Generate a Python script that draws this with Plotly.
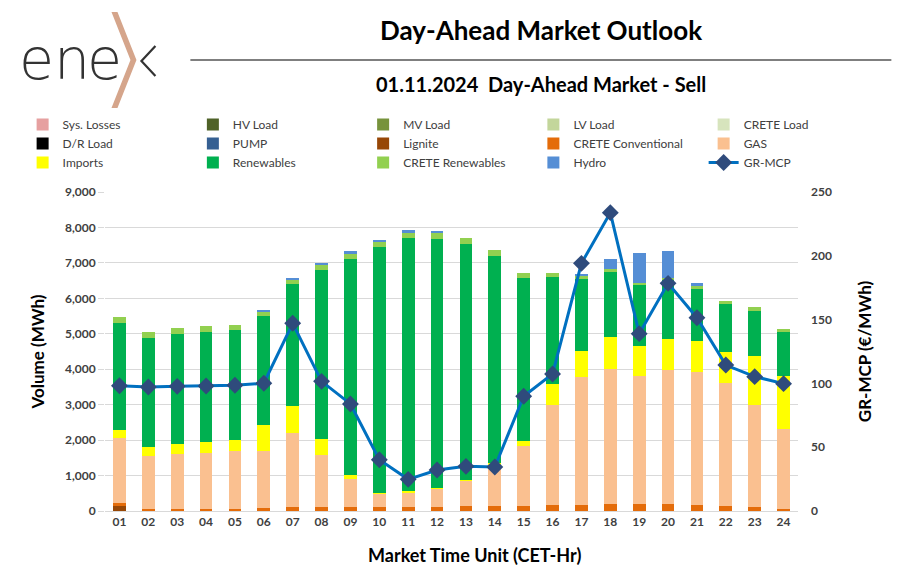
import plotly.graph_objects as go

# page body has an 8px margin: figure drawn at (8, 8)
OFF = 8
W, H = 902 - OFF, 577 - OFF
PL, PR, PT, PB = 104.5, 798.5, 192, 511   # plot area in page pixels
ML, MT = PL - OFF, PT - OFF
PW, PH = PR - PL, PB - PT
MR = W - ML - PW
MB = H - MT - PH

def px(x):
    return (x - PL) / PW

def py(y):
    return (PB - y) / PH

hours = [f"{i:02d}" for i in range(1, 25)]

sys_losses = [0] * 24
hv_load = [0] * 24
mv_load = [0] * 24
lv_load = [0] * 24
crete_load = [0] * 24
dr_load = [0] * 24
pump = [0] * 24
lignite = [140] + [0] * 23
crete_conv = [95, 65, 65, 65, 65, 75, 100, 110, 100, 100, 100, 120,
              130, 130, 130, 160, 180, 210, 210, 205, 180, 135, 105, 65]
gas = [1816, 1497, 1544, 1581, 1638, 1609, 2101, 1480, 812, 380, 427, 501,
       717, 1168, 1695, 2822, 3592, 3807, 3600, 3774, 3743, 3477, 2896, 2259]
imports = [235, 254, 291, 301, 301, 743, 772, 451, 113, 28, 28, 28,
           37, 57, 150, 612, 753, 894, 856, 885, 875, 866, 1364, 1477]
renewables = [3020, 3076, 3105, 3105, 3104, 3076, 3424, 4751, 6087, 6933, 7150, 7037,
              6651, 5851, 4601, 3000, 2032, 1834, 1703, 1665, 1477, 1364, 1279, 1241]
crete_ren = [160, 150, 150, 160, 151, 104, 132, 141, 141, 151, 150, 150,
             160, 169, 141, 123, 75, 85, 66, 47, 84, 94, 113, 104]
hydro = [0, 0, 0, 0, 0, 66, 47, 67, 85, 66, 75, 76,
         0, 0, 0, 0, 57, 291, 837, 762, 76, 0, 0, 0]
gr_mcp = [98.2, 97.2, 97.7, 98.0, 98.5, 100.1, 147.1, 101.6, 83.9, 40.2, 24.8, 32.1,
          35.0, 34.5, 89.9, 107.4, 194.1, 233.8, 139.0, 178.4, 151.5, 114.4, 105.3, 99.8]

# (name, values, colour, legend id, rank) in stacking order
bar_series = [
    ("Lignite", lignite, "#974706", "legend3", 2),
    ("CRETE Conventional", crete_conv, "#E46C0A", "legend4", 2),
    ("GAS", gas, "#FAC090", "legend5", 2),
    ("Imports", imports, "#FFFF00", "legend", 3),
    ("Renewables", renewables, "#00B050", "legend2", 3),
    ("CRETE Renewables", crete_ren, "#92D050", "legend3", 3),
    ("Hydro", hydro, "#558ED5", "legend4", 3),
    ("PUMP", pump, "#366092", "legend2", 2),
    ("D/R Load", dr_load, "#000000", "legend", 2),
    ("CRETE Load", crete_load, "#D7E4BD", "legend5", 1),
    ("LV Load", lv_load, "#C3D69B", "legend4", 1),
    ("MV Load", mv_load, "#77933C", "legend3", 1),
    ("HV Load", hv_load, "#4F6228", "legend2", 1),
    ("Sys. Losses", sys_losses, "#E6A0A0", "legend", 1),
]

FONT = "Lato"
fig = go.Figure()
for name, vals, col, leg, rank in bar_series:
    fig.add_trace(go.Bar(
        x=hours, y=vals, name=name, legend=leg, legendrank=rank,
        marker=dict(color=col, line=dict(width=0)),
        hoverinfo="skip",
    ))

fig.add_trace(go.Scatter(
    x=hours, y=gr_mcp, name="GR-MCP", yaxis="y2", legend="legend5", legendrank=3,
    mode="lines+markers",
    line=dict(color="#0070C0", width=3),
    marker=dict(symbol="diamond", size=13, color="#2F4B7C"),
))

shapes = [
    dict(type="line", xref="paper", yref="paper",
         x0=px(190), x1=px(892), y0=py(60), y1=py(60),
         line=dict(color="#000000", width=1.2)),
    # logo chevron
    dict(type="path", xref="paper", yref="paper",
         path=f"M {px(111)},{py(12)} L {px(117)},{py(12)} L {px(136)},{py(60)} "
              f"L {px(117)},{py(108)} L {px(111)},{py(108)} L {px(130)},{py(60)} Z",
         fillcolor="#D5A58B", line=dict(width=0)),
    dict(type="path", xref="paper", yref="paper",
         path=f"M {px(155)},{py(46)} L {px(141)},{py(61)} L {px(155)},{py(76)}",
         line=dict(color="#333333", width=2.2)),
]

logo_font = dict(family="DejaVu Sans", size=57, color="#333333", weight=200)
annotations = [
    dict(text=ch, xref="paper", yref="paper", x=px(cx), y=py(59),
         xanchor="center", yanchor="middle", showarrow=False, font=logo_font)
    for ch, cx in [("e", 36), ("n", 71), ("e", 104)]
] + [
    dict(text="Day-Ahead Market Outlook", xref="paper", yref="paper",
         x=px(541), y=py(30), xanchor="center", yanchor="middle", showarrow=False,
         font=dict(family=FONT, size=26, color="#000000", weight="bold")),
    dict(text="01.11.2024  Day-Ahead Market - Sell", xref="paper", yref="paper",
         x=px(541), y=py(84), xanchor="center", yanchor="middle", showarrow=False,
         font=dict(family=FONT, size=20, color="#000000", weight="bold")),
    dict(text="Market Time Unit (CET-Hr)", xref="paper", yref="paper",
         x=px(475), y=py(555), xanchor="center", yanchor="middle", showarrow=False,
         font=dict(family=FONT, size=18, color="#000000", weight="bold")),
]

leg_common = dict(orientation="v", yanchor="top", xanchor="left",
                  traceorder="normal", font=dict(size=12, color="#404040"),
                  itemwidth=30, bgcolor="rgba(0,0,0,0)", tracegroupgap=0)
leg_x = [22 + 170.5 * i for i in range(5)]
legends = {}
for i, key in enumerate(["legend", "legend2", "legend3", "legend4", "legend5"]):
    legends[key] = dict(leg_common, x=px(leg_x[i]), y=py(110))

fig.update_layout(
    width=W, height=H,
    margin=dict(l=ML, r=MR, t=MT, b=MB, pad=0),
    paper_bgcolor="white", plot_bgcolor="white",
    barmode="stack", bargap=0.56,
    font=dict(family=FONT, color="#404040"),
    showlegend=True,
    xaxis=dict(type="category", range=[-0.5, 23.5], showgrid=False,
               showline=True, linecolor="#D9D9D9", linewidth=1, ticks="",
               tickfont=dict(size=12, color="#404040", weight="bold")),
    yaxis=dict(range=[0, 9000], dtick=1000, tickformat=",", showgrid=True,
               gridcolor="#D9D9D9", gridwidth=1, zeroline=False, ticks="outside",
               ticklen=6, tickcolor="#D9D9D9",
               tickfont=dict(size=12, color="#404040", weight="bold"),
               title=dict(text="Volume (MWh)", standoff=15,
                          font=dict(size=17, color="#000000", weight="bold"))),
    yaxis2=dict(range=[0, 250], dtick=50, overlaying="y", side="right",
                showgrid=False, zeroline=False, ticks="", ticklabelstandoff=12,
                tickfont=dict(size=12, color="#404040", weight="bold"),
                title=dict(text="GR-MCP (€/MWh)", standoff=28,
                           font=dict(size=17, color="#000000", weight="bold"))),
    shapes=shapes,
    annotations=annotations,
    **legends,
)

fig.write_html("out.html")
